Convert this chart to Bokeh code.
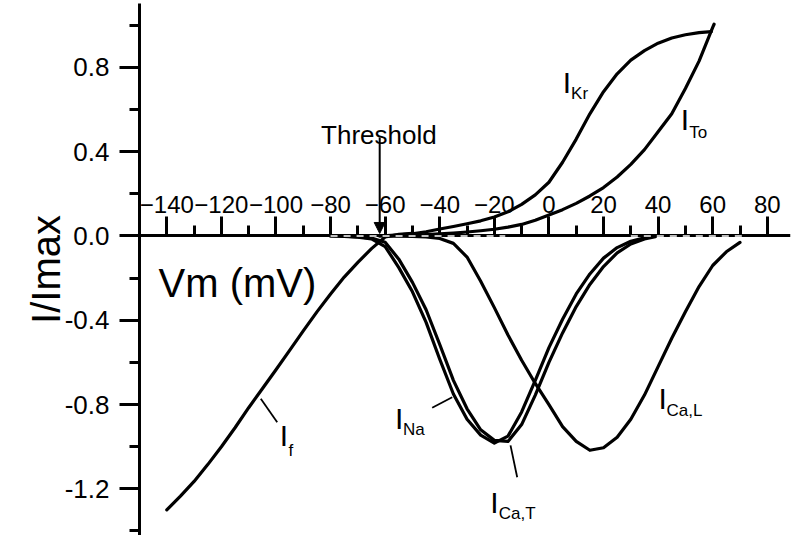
from bokeh.plotting import figure
from bokeh.models import Range1d, FixedTicker, PrintfTickFormatter, Label, Arrow, NormalHead
from bokeh.embed import file_html
from bokeh.resources import INLINE

# ---------------- data ----------------
x_ticks = [-140, -120, -100, -80, -60, -40, -20, 0, 20, 40, 60, 80]
x_minor = [-130, -110, -90, -70, -50, -30, -10, 10, 30, 50, 70]
y_ticks = [-1.2, -0.8, -0.4, 0.0, 0.4, 0.8]
y_minor = [-1.4, -1.0, -0.6, -0.2, 0.2, 0.6, 1.0]

# I_f
vm_f = [-140, -135, -130, -125, -120, -115, -110, -105, -100, -95, -90, -85,
        -80, -75, -70, -65, -60, -55, -50]
i_f = [-1.30, -1.235, -1.165, -1.085, -1.0, -0.91, -0.815, -0.725, -0.635, -0.543,
       -0.45, -0.36, -0.275, -0.195, -0.125, -0.06, -0.005, 0.008, 0.012]

# I_Na
vm_na = [-80, -75, -70, -65, -60, -55, -50, -45, -40, -35, -30, -25, -20, -15,
         -10, -5, 0, 5, 10, 15, 20, 25, 30, 35, 37]
i_na = [0.0, -0.002, -0.006, -0.014, -0.05, -0.15, -0.265, -0.41, -0.585, -0.75,
        -0.87, -0.945, -0.983, -0.95, -0.835, -0.685, -0.53, -0.395, -0.275, -0.18,
        -0.105, -0.055, -0.025, -0.008, -0.003]

# I_Ca,T
vm_cat = [-80, -75, -70, -65, -60, -55, -50, -45, -40, -35, -30, -25, -20, -15,
          -10, -5, 0, 5, 10, 15, 20, 25, 30, 35, 39]
i_cat = [0.0, -0.001, -0.004, -0.01, -0.03, -0.11, -0.22, -0.35, -0.515, -0.685,
         -0.82, -0.92, -0.97, -0.975, -0.895, -0.755, -0.60, -0.46, -0.335, -0.23,
         -0.145, -0.08, -0.038, -0.014, -0.003]

# I_Ca,L
vm_cal = [-60, -55, -50, -45, -40, -35, -30, -25, -20, -15, -10, -5, 0, 5, 10,
          15, 20, 25, 30, 35, 40, 45, 50, 55, 60, 65, 70]
i_cal = [0.0, -0.001, -0.002, -0.004, -0.012, -0.035, -0.10, -0.215, -0.34, -0.47,
         -0.59, -0.70, -0.80, -0.905, -0.975, -1.017, -1.005, -0.955, -0.87, -0.755,
         -0.62, -0.485, -0.36, -0.24, -0.14, -0.075, -0.03]

# I_Kr
vm_kr = [-62, -55, -50, -45, -40, -35, -30, -25, -20, -15, -10, -5, 0, 5, 10, 15,
         20, 25, 30, 35, 40, 45, 50, 55, 59.5]
i_kr = [0.0, 0.005, 0.01, 0.02, 0.033, 0.045, 0.058, 0.072, 0.09, 0.115, 0.15,
        0.195, 0.255, 0.35, 0.46, 0.58, 0.685, 0.77, 0.835, 0.88, 0.915, 0.94,
        0.955, 0.965, 0.97]

# I_To
vm_to = [-62, -55, -50, -45, -40, -35, -30, -25, -20, -15, -10, -5, 0, 5, 10, 15,
         20, 25, 30, 35, 40, 45, 50, 55, 60, 60.5]
i_to = [0.0, 0.002, 0.004, 0.007, 0.01, 0.014, 0.019, 0.025, 0.032, 0.042, 0.055,
        0.075, 0.10, 0.125, 0.155, 0.19, 0.23, 0.28, 0.34, 0.41, 0.495, 0.58, 0.70,
        0.83, 0.99, 1.005]

threshold_vm = -62

# stretches of the zero line that appear broken (white dashes) in the original
zero_dash_from = [-80, 30]
zero_dash_to = [-16, 72]

FONT = "Liberation Sans"

# ---------------- figure ----------------
p = figure(width=800, height=535,
           x_range=Range1d(-150, 88.5), y_range=Range1d(-1.4215, 1.1035),
           x_axis_location="above", y_axis_location="left",
           toolbar_location=None, output_backend="svg",
           min_border_left=139, min_border_right=10,
           min_border_top=3, min_border_bottom=0)
p.outline_line_color = None
p.grid.visible = False
p.background_fill_color = "white"
p.border_fill_color = "white"

# x axis crossing at y = 0, ticks and labels above
xa = p.xaxis[0]
xa.fixed_location = 0
xa.ticker = FixedTicker(ticks=x_ticks, minor_ticks=x_minor)
xa.axis_line_width = 3
xa.axis_line_color = "black"
xa.major_tick_line_width = 3
xa.minor_tick_line_width = 3
xa.major_tick_out = 19
xa.major_tick_in = 0
xa.minor_tick_out = 10
xa.minor_tick_in = 0
xa.major_label_standoff = 4
xa.major_label_text_font = FONT
xa.major_label_text_font_size = "24px"
xa.major_label_text_color = "black"

ya = p.yaxis[0]
ya.ticker = FixedTicker(ticks=y_ticks, minor_ticks=y_minor)
ya.formatter = PrintfTickFormatter(format="%.1f")
ya.axis_line_width = 3
ya.axis_line_color = "black"
ya.major_tick_line_width = 3
ya.minor_tick_line_width = 3
ya.major_tick_out = 20
ya.major_tick_in = 0
ya.minor_tick_out = 10
ya.minor_tick_in = 0
ya.major_label_standoff = 10
ya.major_label_text_font = FONT
ya.major_label_text_font_size = "26px"
ya.major_label_text_color = "black"
ya.axis_label = "I/Imax"
ya.axis_label_text_font = FONT
ya.axis_label_text_font_size = "40px"
ya.axis_label_text_font_style = "normal"
ya.axis_label_text_color = "black"
ya.axis_label_standoff = -6

# ---------------- curves ----------------
for xs, ys in [(vm_f, i_f), (vm_na, i_na), (vm_cat, i_cat), (vm_cal, i_cal),
               (vm_kr, i_kr), (vm_to, i_to)]:
    p.line(xs, ys, line_color="black", line_width=3.2, line_join="round", line_cap="round")

# white dashes breaking the zero line, as in the original export
p.segment(x0=zero_dash_from, y0=[0] * len(zero_dash_from),
          x1=zero_dash_to, y1=[0] * len(zero_dash_to),
          line_color="white", line_width=1.5, line_dash="7 6", level="overlay")

# leader lines for labels
leaders = [((-105.56, -0.7727), (-99.55, -0.8837)),
           ((-42.77, -0.815), (-35.44, -0.765)),
           ((-14.08, -0.994), (-11.63, -1.145))]
p.segment(x0=[a[0][0] for a in leaders], y0=[a[0][1] for a in leaders],
          x1=[a[1][0] for a in leaders], y1=[a[1][1] for a in leaders],
          line_color="black", line_width=1.8)

# ---------------- texts ----------------
def lab(x, y, text, size, align="left"):
    p.add_layout(Label(x=x, y=y, text=text, text_font=FONT,
                       text_font_size=size, text_color="black",
                       text_align=align, text_baseline="alphabetic"))

lab(-143.0, -0.2254, "Vm (mV)", "40px")

# threshold
lab(threshold_vm - 0.3, 0.477, "Threshold", "26px", align="center")
p.add_layout(Arrow(end=NormalHead(size=11, fill_color="black", line_color="black"),
                   x_start=threshold_vm, y_start=0.4675,
                   x_end=threshold_vm, y_end=0.012,
                   line_color="black", line_width=2))

# current labels: big "I" + subscript
curve_labels = [
    ((-98.64, -0.9469), (-95.41, -1.018), "f"),
    ((-56.35, -0.8676), (-53.5, -0.9198), "Na"),
    ((-21.5, -1.2634), (-18.35, -1.3185), "Ca,T"),
    ((40.15, -0.7727), (43.05, -0.8282), "Ca,L"),
    ((5.09, 0.7299), (8.1, 0.6749), "Kr"),
    ((48.32, 0.5515), (51.43, 0.4926), "To"),
]
for (ix, iy), (sx, sy), sub in curve_labels:
    lab(ix, iy, "I", "30px")
    lab(sx, sy, sub, "17px")

open("out.html", "w").write(file_html(p, INLINE))
